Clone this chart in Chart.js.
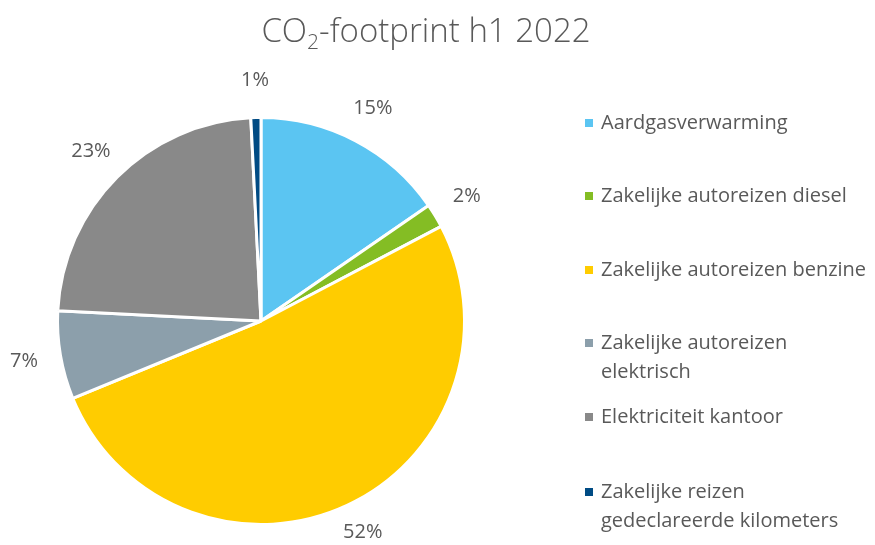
<!DOCTYPE html>
<html lang="nl">
<head>
    <meta charset="UTF-8">
    <title>CO2-footprint h1 2022</title>
    <script src="https://cdn.jsdelivr.net/npm/chart.js"></script>
    <style>
        html, body { margin: 0; padding: 0; background: #fff; }
        #wrap { width: 875px; height: 545px; }
    </style>
</head>
<body>
    <div id="wrap"><canvas id="myChart" width="875" height="545"></canvas></div>

    <script>
        // gegevens
        const categories = [
            'Aardgasverwarming',
            'Zakelijke autoreizen diesel',
            'Zakelijke autoreizen benzine',
            'Zakelijke autoreizen elektrisch',
            'Elektriciteit kantoor',
            'Zakelijke reizen gedeclareerde kilometers'
        ];
        const values = [15.4, 1.9, 51.5, 7.0, 23.4, 0.8];
        // legenda-regels (afgebroken zoals in het origineel)
        const legendLines = [
            ['Aardgasverwarming'],
            ['Zakelijke autoreizen diesel'],
            ['Zakelijke autoreizen benzine'],
            ['Zakelijke autoreizen', 'elektrisch'],
            ['Elektriciteit kantoor'],
            ['Zakelijke reizen', 'gedeclareerde kilometers']
        ];
        const colors = ['#5BC5F2', '#84BD24', '#FFCC00', '#8C9FAB', '#898989', '#004B84'];

        const textColor = '#595959';
        const fontFamily = '"Open Sans", "Liberation Sans", sans-serif';

        const extrasPlugin = {
            id: 'extras',
            afterDraw(chart) {
                const ctx = chart.ctx;
                ctx.save();
                ctx.fillStyle = textColor;

                // titel met subscript
                const big = '300 33px ' + fontFamily;
                const small = '300 21px ' + fontFamily;
                ctx.font = big;
                const w1 = ctx.measureText('CO').width;
                const w3 = ctx.measureText('-footprint h1 2022').width;
                ctx.font = small;
                const w2 = ctx.measureText('2').width;
                let x = 426 - (w1 + w2 + w3) / 2;
                const base = 42;
                ctx.textBaseline = 'alphabetic';
                ctx.textAlign = 'left';
                ctx.font = big;
                ctx.fillText('CO', x, base);
                x += w1;
                ctx.font = small;
                ctx.fillText('2', x, base + 7);
                x += w2;
                ctx.font = big;
                ctx.fillText('-footprint h1 2022', x, base);

                // procentlabels buiten de taart
                const meta = chart.getDatasetMeta(0);
                const total = values.reduce((a, b) => a + b, 0);
                ctx.font = '20px ' + fontFamily;
                ctx.textAlign = 'center';
                ctx.textBaseline = 'middle';
                meta.data.forEach((arc, i) => {
                    const p = arc.getProps(['x', 'y', 'startAngle', 'endAngle', 'outerRadius'], true);
                    const a = (p.startAngle + p.endAngle) / 2;
                    const r = p.outerRadius + 37;
                    const pct = Math.round(values[i] / total * 100) + '%';
                    const ly = Math.min(p.y + Math.sin(a) * r, chart.height - 13);
                    ctx.fillText(pct, p.x + Math.cos(a) * r, ly);
                });

                // legenda
                const legendY = [123, 196, 270, 343, 417, 492];
                ctx.font = '20px ' + fontFamily;
                ctx.textAlign = 'left';
                legendLines.forEach((lines, i) => {
                    ctx.fillStyle = colors[i];
                    ctx.fillRect(585, legendY[i] - 4, 8, 8);
                    ctx.fillStyle = textColor;
                    lines.forEach((t, j) => {
                        ctx.fillText(t, 601, legendY[i] + j * 29);
                    });
                });
                ctx.restore();
            }
        };

        new Chart(document.getElementById('myChart'), {
            type: 'pie',
            data: {
                labels: categories,
                datasets: [{
                    data: values,
                    backgroundColor: colors,
                    borderColor: '#ffffff',
                    borderWidth: 3
                }]
            },
            options: {
                responsive: false,
                animation: false,
                layout: {
                    padding: { left: 56, right: 409, top: 116, bottom: 19 }
                },
                plugins: {
                    legend: { display: false },
                    tooltip: { enabled: false },
                    title: { display: false }
                }
            },
            plugins: [extrasPlugin]
        });
    </script>
</body>
</html>
